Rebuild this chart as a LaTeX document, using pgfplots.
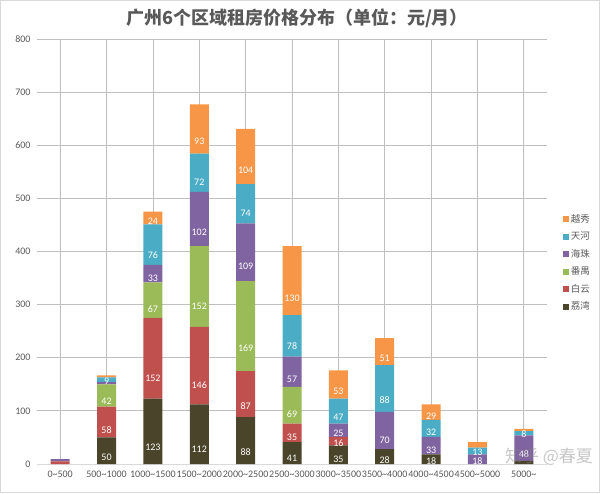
\documentclass[border=0pt]{standalone}
\usepackage{pgfplots}
\pgfplotsset{compat=1.18}
\usepackage{pgfplotstable}
\usepackage{fontspec}
\setmainfont{Carlito}
\newfontfamily\cjk{Noto Sans CJK SC}
\definecolor{cLW}{HTML}{4A452A}
\definecolor{cBY}{HTML}{C0504D}
\definecolor{cPY}{HTML}{9BBB59}
\definecolor{cHZ}{HTML}{8064A2}
\definecolor{cTH}{HTML}{4BACC6}
\definecolor{cYX}{HTML}{F79646}
\definecolor{txt}{HTML}{595959}
\definecolor{grid}{HTML}{D9D9D9}
\pgfplotstableread{
x lw by py hz th yx
0 0 5 0 4 0 0
1 50 58 42 4 9 4
2 123 152 67 33 76 24
3 112 146 152 102 72 93
4 88 87 169 109 74 104
5 41 35 69 57 78 130
6 35 16 0 25 47 53
7 28 0 0 70 88 51
8 18 0 0 33 32 29
9 0 0 0 18 13 10
10 6 0 0 48 8 4
}\data
\newcommand\barplot[2]{\addplot[fill=#1, point meta=\thisrow{#2}, visualization depends on={\thisrow{#2}\as\rawy}] table[x=x,y=#2]{\data};}
\begin{document}
\begin{tikzpicture}
\begin{axis}[
  name=ax,
  scale only axis, width=510pt, height=425pt,
  ybar stacked, bar width=19pt,
  xmin=-0.5, xmax=10.5, ymin=0, ymax=800,
  ytick={0,100,...,800},
  xtick=data,
  xticklabels={0\textasciitilde500,500\textasciitilde1000,1000\textasciitilde1500,1500\textasciitilde2000,2000\textasciitilde2500,2500\textasciitilde3000,3000\textasciitilde3500,3500\textasciitilde4000,4000\textasciitilde4500,4500\textasciitilde5000,5000\textasciitilde},
  /pgf/number format/assume math mode=true,
  ymajorgrids, grid style={grid, line width=0.8pt},
  axis x line*=bottom, axis y line*=left,
  x axis line style={grid, line width=0.8pt},
  y axis line style={draw=none},
  major tick length=0pt,
  ticklabel style={text=txt, font=\fontsize{10}{12}\selectfont},
  yticklabel style={xshift=-3pt},
  xticklabel style={yshift=-3pt},
  every axis plot/.append style={draw=none},
  nodes near coords={\ifdim\rawy pt<7.5pt\relax\else\ifdim\rawy pt=10pt\relax\else\pgfmathprintnumber{\rawy}\fi\fi},
  every node near coord/.append style={anchor=center, text=white, font=\fontsize{10}{12}\selectfont, shift={(axis direction cs:0,-\rawy/4)}},
  reverse legend,
  legend style={draw=none, at={(1.025,0.473)}, anchor=west, font=\cjk\fontsize{9.5}{11}\selectfont, text=txt, row sep=4pt},
  legend image code/.code={\fill[#1] (0pt,-3pt) rectangle (6pt,3pt);},
  clip=false,
]
\barplot{cLW}{lw}
\barplot{cBY}{by}
\barplot{cPY}{py}
\barplot{cHZ}{hz}
\barplot{cTH}{th}
\barplot{cYX}{yx}
\legend{荔湾,白云,番禺,海珠,天河,越秀}
\end{axis}
\node[font=\cjk\bfseries\fontsize{18}{20}\selectfont, text=txt] at ([xshift=260pt,yshift=21pt]ax.north west) {广州6个区域租房价格分布（单位：元/月）};
\node[font=\cjk\fontsize{17}{19}\selectfont, text=gray, opacity=0.45] at ([xshift=512pt,yshift=7pt]ax.south west) {知乎 @春夏};
\pgfresetboundingbox
\draw[grid, line width=0.8pt] ([xshift=-36.5pt,yshift=-28.5pt]ax.south west) rectangle ([xshift=562.5pt,yshift=463.5pt]ax.south west);
\useasboundingbox ([xshift=-37pt,yshift=-29pt]ax.south west) rectangle ([xshift=563pt,yshift=464pt]ax.south west);
\end{tikzpicture}
\end{document}
